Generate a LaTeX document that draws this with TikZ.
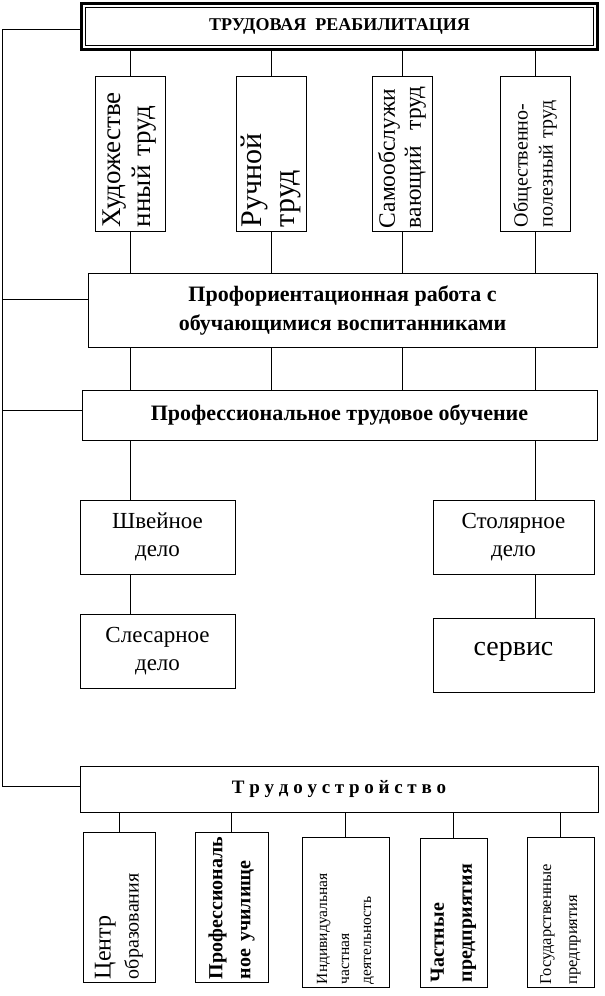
\documentclass[tikz,border=0pt]{standalone}
\usepackage{fontspec}
\setmainfont{Liberation Serif}
\begin{document}
\begin{tikzpicture}[x=1pt,y=-1pt,
        box/.style={draw,inner sep=2pt,align=center},
        vbox/.style={draw,rotate=90,inner sep=3pt,align=left},
        link/.style={draw}]
\useasboundingbox (0,0) rectangle (605,996);

% main title
\node[box,line width=2.2pt,minimum width=516pt,minimum height=46pt] (reh) at (339.5,26.5) {};
\node[box,minimum width=508pt,minimum height=38pt,font=\bfseries\fontsize{18}{20}\selectfont] (rehin) at (339.5,26.5) {ТРУДОВАЯ\ \ РЕАБИЛИТАЦИЯ};

% kinds of labour
\node[vbox,minimum width=155pt,minimum height=70pt,text width=147pt,font=\fontsize{27}{30}\selectfont] (art) at (130,153.5) {Художестве\\нный труд};
\node[vbox,minimum width=155pt,minimum height=70pt,text width=147pt,font=\fontsize{30}{33}\selectfont] (hand) at (271,153.5) {Ручной\\труд};
\node[vbox,minimum width=155pt,minimum height=60pt,text width=149pt,font=\fontsize{23.5}{26}\selectfont] (self) at (402,153.5) {Самообслужи\\вающий\ \ труд};
\node[vbox,minimum width=155pt,minimum height=70pt,text width=147pt,font=\fontsize{20}{25}\selectfont] (soc) at (535,153.5) {Общественно-\\полезный труд};

\node[box,minimum width=509pt,minimum height=74pt,font=\bfseries\fontsize{22}{29}\selectfont] (prof) at (342.5,310) {Профориентационная работа с\\обучающимися воспитанниками};
\node[box,minimum width=515pt,minimum height=50pt,font=\bfseries\fontsize{22}{26}\selectfont] (edu) at (339.5,415) {Профессиональное трудовое обучение};

\node[box,minimum width=155pt,minimum height=74pt,font=\fontsize{23}{28}\selectfont] (sew) at (157.5,537) {Швейное\\дело};
\node[box,minimum width=161pt,minimum height=74pt,font=\fontsize{23}{28}\selectfont] (wood) at (513.5,537) {Столярное\\дело};
\node[box,minimum width=155pt,minimum height=74pt,font=\fontsize{23}{28}\selectfont] (lock) at (157.5,651) {Слесарное\\дело};
\node[box,minimum width=161pt,minimum height=74pt,font=\fontsize{28}{30}\selectfont] (serv) at (513.5,655) {\raisebox{12pt}{сервис}};

\node[box,minimum width=518pt,minimum height=46pt,font=\bfseries\fontsize{19}{22}\selectfont] (job) at (339,789) {Т\ р\ у\ д\ о\ у\ с\ т\ р\ о\ й\ с\ т\ в\ о};

% employment places
\node[vbox,minimum width=150pt,minimum height=72pt,text width=144pt,font=\fontsize{24}{28}\selectfont] (cent) at (119,907) {Центр\\{\fontsize{20}{24}\selectfont образования}};
\node[vbox,minimum width=150pt,minimum height=73pt,text width=144pt,font=\bfseries\fontsize{20}{28}\selectfont] (sch) at (231.5,907) {Профессиональ\\ное училище};
\node[vbox,minimum width=150pt,minimum height=87pt,text width=144pt,font=\fontsize{15.5}{22}\selectfont] (ind) at (345.5,912) {Индивидуальная\\частная\\деятельность};
\node[vbox,minimum width=149pt,minimum height=67pt,text width=140pt,font=\bfseries\fontsize{20}{28}\selectfont] (priv) at (453.5,912.5) {Частные\\предприятия};
\node[vbox,minimum width=149pt,minimum height=67pt,text width=144pt,font=\fontsize{16.5}{26}\selectfont] (gov) at (560.5,912.5) {Государственные\\предприятия};

% left bus
\coordinate (lt) at (2,29);
\coordinate (lb) at (2,786);
\draw[link] (reh.west |- lt) -- (lt) -- (lb) -- (job.west |- lb);
\draw[link] (2,299) -- (prof.west |- 0,299);
\draw[link] (2,410) -- (edu.west |- 0,410);

% vertical links
\foreach \n in {art,hand,self,soc}{
  \draw[link] (reh.south -| \n.center) -- (\n.east);
  \draw[link] (\n.west) -- (prof.north -| \n.center);
  \draw[link] (prof.south -| \n.center) -- (edu.north -| \n.center);
}
\draw[link] (edu.south -| art.center) -- (sew.north -| art.center);
\draw[link] (edu.south -| soc.center) -- (wood.north -| soc.center);
\draw[link] (sew.south -| art.center) -- (lock.north -| art.center);
\draw[link] (wood.south -| soc.center) -- (serv.north -| soc.center);
\foreach \n in {cent,sch,ind,priv,gov}
  \draw[link] (job.south -| \n.center) -- (\n.east);
\end{tikzpicture}
\end{document}
